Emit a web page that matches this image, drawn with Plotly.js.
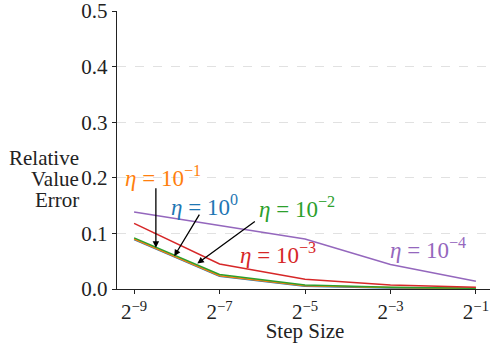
<!DOCTYPE html>
<html><head><meta charset="utf-8">
<script src="https://cdn.plot.ly/plotly-3.0.1.min.js"></script>
<style>
html,body{margin:0;padding:0;overflow:hidden;background:#fff}
</style>
</head><body><div id="chart"></div>
<script>
const stepExp = [-9, -7, -5, -3, -1];
const stepSize = stepExp.map(e => Math.pow(2, e));
const tickText = ["2<sup>−9</sup>", "2<sup>−7</sup>", "2<sup>−5</sup>", "2<sup>−3</sup>", "2<sup>−1</sup>"];
const err_eta_1e0  = [0.089, 0.023, 0.005, 0.002, 0.001];
const err_eta_1em1 = [0.090, 0.024, 0.006, 0.0025, 0.001];
const err_eta_1em2 = [0.092, 0.026, 0.007, 0.003, 0.0012];
const err_eta_1em3 = [0.118, 0.045, 0.0175, 0.007, 0.003];
const err_eta_1em4 = [0.1385, 0.114, 0.090, 0.044, 0.014];
const seriesNames = ["η = 10^0", "η = 10^-1", "η = 10^-2", "η = 10^-3", "η = 10^-4"];
const seriesColors = ["#1f77b4", "#ff7f0e", "#2ca02c", "#d62728", "#9467bd"];
const labelText = ["<i>η</i> = 10<sup>0</sup>", "<i>η</i> = 10<sup>−1</sup>", "<i>η</i> = 10<sup>−2</sup>", "<i>η</i> = 10<sup>−3</sup>", "<i>η</i> = 10<sup>−4</sup>"];
const yTitleLines = ["Relative", "Value", "Error"];
// label positions (log2 of step size, value)
const labelPosExp = [-7.36, -8.32, -5.19, -5.63, -2.12];
const labelPosVal = [0.151, 0.203, 0.146, 0.063, 0.072];
// arrow heads (log2 of step size, value)
const arrowHeadExp = [-8.06, -8.49, -7.52];
const arrowHeadVal = [0.059, 0.074, 0.046];

(function () {
  const fam = "Liberation Serif";
  const allSeries = [err_eta_1e0, err_eta_1em1, err_eta_1em2, err_eta_1em3, err_eta_1em4];
  const arrowTail = [[26, -43], [0, -61], [59, -43]];
  const traces = allSeries.map((s, i) => ({
    x: stepSize, y: s, type: "scatter", mode: "lines", name: seriesNames[i],
    line: {color: seriesColors[i], width: 1.5}, hoverinfo: "skip"
  }));
  const lg = v => Math.log10(v);
  const W = 500, H = 343, L = 117, R = 7, T = 11, B = 54;
  const ann = [];
  labelText.forEach((t, i) => {
    ann.push({
      x: lg(Math.pow(2, labelPosExp[i])), y: labelPosVal[i], xref: "x", yref: "y",
      text: t, showarrow: false, font: {family: fam, size: 23, color: seriesColors[i]},
      xanchor: "center", yanchor: "middle"
    });
  });
  arrowHeadExp.forEach((e, i) => {
    ann.push({
      x: lg(Math.pow(2, e)), y: arrowHeadVal[i], xref: "x", yref: "y",
      text: "", showarrow: true, arrowhead: 2, arrowsize: 1, arrowwidth: 1.3, arrowcolor: "#000",
      ax: arrowTail[i][0], ay: arrowTail[i][1], standoff: 0
    });
  });
  const yTitleY = [158, 179, 200];
  yTitleLines.forEach((t, i) => {
    ann.push({
      x: (81 - L) / (W - L - R), y: 1 - (yTitleY[i] - T) / (H - T - B), xref: "paper", yref: "paper",
      text: t, showarrow: false, xanchor: "right", yanchor: "middle",
      font: {family: fam, size: 21, color: "#222"}
    });
  });
  const layout = {
    width: W, height: H,
    margin: {l: L, r: R, t: T, b: B},
    paper_bgcolor: "#fff", plot_bgcolor: "#fff",
    showlegend: false,
    font: {family: fam, size: 21, color: "#222"},
    xaxis: {
      type: "log", range: [lg(Math.pow(2, -9.4)), lg(Math.pow(2, -0.6))],
      tickvals: stepSize, ticktext: tickText, ticks: "outside", ticklen: 4, tickcolor: "#222",
      showgrid: false, zeroline: false, showline: true, linecolor: "#222", linewidth: 1.2,
      ticklabeloverflow: "allow",
      title: {text: "Step Size", font: {family: fam, size: 21, color: "#222"}, standoff: 4},
      tickfont: {family: fam, size: 21, color: "#222"}
    },
    yaxis: {
      range: [0, 0.5], tickvals: [0, 0.1, 0.2, 0.3, 0.4, 0.5], tickformat: ".1f",
      ticks: "outside", ticklen: 4, tickcolor: "#222",
      showgrid: true, gridcolor: "#d9d9d9", griddash: "dash", gridwidth: 0.8,
      zeroline: false, showline: true, linecolor: "#222", linewidth: 1.2,
      ticklabeloverflow: "allow",
      tickfont: {family: fam, size: 21, color: "#222"}
    },
    annotations: ann
  };
  Plotly.newPlot("chart", traces, layout, {displayModeBar: false, staticPlot: true});
})();
</script></body></html>
